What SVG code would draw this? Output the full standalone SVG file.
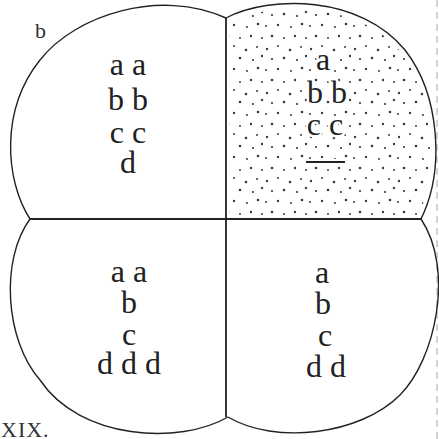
<svg xmlns="http://www.w3.org/2000/svg" width="439" height="439" viewBox="0 0 439 439">
  <style>
    .outline { fill: none; stroke: #222; stroke-width: 1.4; stroke-linejoin: round; }
    .divider { fill: none; stroke: #222; stroke-width: 1.8; }
    .lbl { font-family: "Liberation Serif", "Times New Roman", serif; font-size: 32px; fill: #222; text-anchor: middle; }
    .halo { stroke: #fff; stroke-width: 5; paint-order: stroke; stroke-linejoin: round; }
    .small { font-family: "Liberation Serif", "Times New Roman", serif; font-size: 22px; fill: #333; }
    .dot { fill: #3a3a3a; }
  </style>
  <defs>
    <pattern id="stipple" x="0" y="0" width="44" height="44" patternUnits="userSpaceOnUse">
      <circle class="dot" cx="3" cy="5" r="1.2"/>
      <circle class="dot" cx="14" cy="2" r="1"/>
      <circle class="dot" cx="26" cy="6" r="1.3"/>
      <circle class="dot" cx="37" cy="3" r="1"/>
      <circle class="dot" cx="8" cy="15" r="1.1"/>
      <circle class="dot" cx="20" cy="14" r="1.3"/>
      <circle class="dot" cx="33" cy="16" r="1.1"/>
      <circle class="dot" cx="42" cy="12" r="1.2"/>
      <circle class="dot" cx="2" cy="26" r="1"/>
      <circle class="dot" cx="14" cy="25" r="1.2"/>
      <circle class="dot" cx="27" cy="27" r="1"/>
      <circle class="dot" cx="38" cy="24" r="1.3"/>
      <circle class="dot" cx="8" cy="36" r="1.3"/>
      <circle class="dot" cx="20" cy="38" r="1"/>
      <circle class="dot" cx="31" cy="36" r="1.2"/>
      <circle class="dot" cx="42" cy="38" r="1"/>
    </pattern>
    <clipPath id="trclip">
      <path d="M229,22 C270,2 358,0 402,53 C436,95 440,170 418,216 L229,216 Z"/>
    </clipPath>
  </defs>

  <!-- faint page edge of the scan -->
  <line x1="437" y1="0" x2="437" y2="439" stroke="#c8c8c8" stroke-width="1.5" stroke-dasharray="7 5"/>

  <g id="lobe-top-left">
    <path class="outline" d="M30,219 C5,180 0,110 40,60 C75,15 160,-12 226,18"/>
    <text class="lbl" x="128" y="75">a a</text>
    <text class="lbl" x="128" y="110">b b</text>
    <text class="lbl" x="128" y="143">c c</text>
    <text class="lbl" x="128" y="173">d</text>
  </g>

  <g id="lobe-top-right">
    <rect x="220" y="0" width="220" height="220" fill="url(#stipple)" clip-path="url(#trclip)"/>
    <path class="outline" d="M226,18 C270,-5 360,-5 405,50 C440,95 445,170 421,219"/>
    <text class="lbl halo" x="323" y="70">a</text>
    <text class="lbl halo" x="327" y="103">b b</text>
    <text class="lbl halo" x="325" y="135">c c</text>
    <line x1="306" y1="162" x2="345" y2="162" stroke="#fff" stroke-width="6"/>
    <line x1="306" y1="162" x2="345" y2="162" stroke="#222" stroke-width="2"/>
  </g>

  <g id="lobe-bottom-left">
    <path class="outline" d="M30,219 C0,260 5,340 40,380 C80,440 180,445 228,417"/>
    <text class="lbl" x="129" y="282">a a</text>
    <text class="lbl" x="129" y="313">b</text>
    <text class="lbl" x="129" y="345">c</text>
    <text class="lbl" x="129" y="374">d d d</text>
  </g>

  <g id="lobe-bottom-right">
    <path class="outline" d="M228,417 C275,445 360,435 400,395 C435,360 455,270 421,219"/>
    <text class="lbl" x="322" y="283">a</text>
    <text class="lbl" x="323" y="314">b</text>
    <text class="lbl" x="325" y="346">c</text>
    <text class="lbl" x="326" y="377">d d</text>
  </g>

  <g id="connectors">
    <line class="divider" x1="30" y1="219" x2="421" y2="219"/>
    <line class="divider" x1="226" y1="18" x2="226" y2="417"/>
  </g>

  <g id="labels">
    <text class="small" x="35" y="38">b</text>
    <text class="small" x="1" y="437" letter-spacing="1">XIX.</text>
  </g>
</svg>
